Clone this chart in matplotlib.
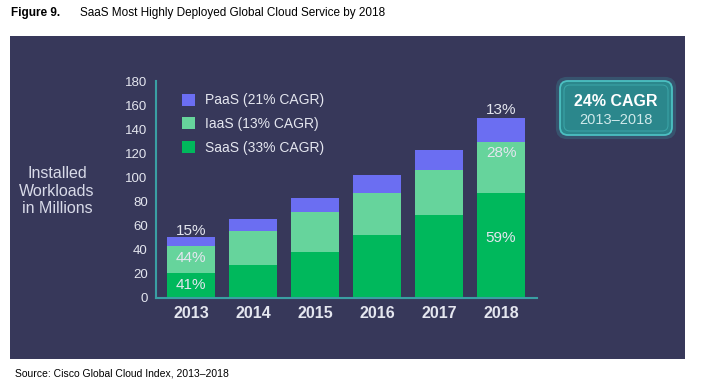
import matplotlib
matplotlib.use("Agg")
import matplotlib.pyplot as plt
import numpy as np
from matplotlib.patches import Rectangle, FancyBboxPatch, Patch

plt.rcParams['font.family'] = ['Liberation Sans', 'DejaVu Sans']

# dados (milhoes de workloads)
anos = ['2013', '2014', '2015', '2016', '2017', '2018']
saas = [21, 27, 38, 52, 68.5, 87]
iaas = [22, 28.5, 33, 35.5, 37.5, 42]
paas = [8, 10, 12, 14.5, 17, 20]

legenda = ['PaaS (21% CAGR)', 'IaaS (13% CAGR)', 'SaaS (33% CAGR)']
pct_2013 = ['41%', '44%', '15%']  # saas, iaas, paas
pct_2018 = ['59%', '28%', '13%']

cor_saas = '#00b85c'
cor_iaas = '#66d49c'
cor_paas = '#6b6ef2'
cor_fundo = '#37385a'
cor_eixo = '#3a9fa3'
cor_texto = '#e4e6ef'

W, H = 701, 384
fig = plt.figure(figsize=(W / 100, H / 100), dpi=100)
fig.patch.set_facecolor('white')

# eixo de fundo em coordenadas de pixel
bg = fig.add_axes([0, 0, 1, 1])
bg.set_xlim(0, W)
bg.set_ylim(H, 0)
bg.axis('off')

# painel escuro
bg.add_patch(Rectangle((10, 36), 675, 323, facecolor=cor_fundo, edgecolor='none'))

# titulo e fonte
bg.text(11, 13, 'Figure 9.', fontsize=8.5, fontweight='bold', va='center', ha='left')
bg.text(80, 13, 'SaaS Most Highly Deployed Global Cloud Service by 2018', fontsize=8.5,
        va='center', ha='left')
bg.text(15, 374, 'Source: Cisco Global Cloud Index, 2013\u20132018', fontsize=7.5,
        va='center', ha='left')

# rotulo do eixo y
bg.text(57, 191, 'Installed\nWorkloads\nin Millions', fontsize=11.5, color='#d8dae8',
        ha='center', va='center', linespacing=1.2)

# caixa CAGR
bg.add_patch(FancyBboxPatch((558, 79), 116, 58, boxstyle='round,pad=0,rounding_size=9',
                            facecolor='none', edgecolor='#3aa6aa', linewidth=3, alpha=0.25))
bg.add_patch(FancyBboxPatch((560, 81), 112, 54, boxstyle='round,pad=0,rounding_size=8',
                            facecolor='#2b878c', edgecolor='#4cc0c2', linewidth=1.3))
bg.add_patch(FancyBboxPatch((564, 85), 104, 46, boxstyle='round,pad=0,rounding_size=6',
                            facecolor='none', edgecolor='#3aa3a6', linewidth=0.8))
bg.text(616, 101, '24% CAGR', fontsize=11.5, fontweight='bold', color='white',
        ha='center', va='center')
bg.text(616, 120, '2013\u20132018', fontsize=10.5, color='#cfe9ea', ha='center', va='center')

# grafico de barras
ax = fig.add_axes([156 / W, 1 - 298 / H, (537 - 156) / W, (298 - 81) / H])
ax.patch.set_alpha(0)
x = np.arange(len(anos))
larg = 0.77
base2 = np.array(saas) + np.array(iaas)
total = base2 + np.array(paas)

ax.bar(x, saas, larg, color=cor_saas, label=legenda[2])
ax.bar(x, iaas, larg, bottom=saas, color=cor_iaas, label=legenda[1])
ax.bar(x, paas, larg, bottom=base2, color=cor_paas, label=legenda[0])

ax.set_xlim(-0.565, 5.58)
ax.set_ylim(0, 180)
ax.set_yticks(np.arange(0, 181, 20))
ax.set_xticks(x)
ax.set_xticklabels(anos, fontsize=11.5, fontweight='bold', color=cor_texto)
for lbl in ax.get_yticklabels():
    lbl.set_fontsize(9.5)
    lbl.set_color(cor_texto)
ax.tick_params(axis='both', length=0)
ax.tick_params(axis='y', pad=6)
ax.tick_params(axis='x', pad=6)
for s in ['top', 'right']:
    ax.spines[s].set_visible(False)
for s in ['left', 'bottom']:
    ax.spines[s].set_color(cor_eixo)
    ax.spines[s].set_linewidth(1.5)

# porcentagens 2013
ax.text(0, saas[0] / 2, pct_2013[0], ha='center', va='center', fontsize=11, color=cor_texto)
ax.text(0, saas[0] + iaas[0] / 2 + 1, pct_2013[1], ha='center', va='center', fontsize=11, color=cor_texto)
ax.text(0, total[0] + 4.5, pct_2013[2], ha='center', va='center', fontsize=11, color=cor_texto)
# porcentagens 2018
ax.text(5, saas[5] / 2 + 6, pct_2018[0], ha='center', va='center', fontsize=11, color=cor_texto)
ax.text(5, base2[5] - 9, pct_2018[1], ha='center', va='center', fontsize=11, color=cor_texto)
ax.text(5, total[5] + 7, pct_2018[2], ha='center', va='center', fontsize=11, color=cor_texto)

# legenda
handles = [Patch(facecolor=cor_paas), Patch(facecolor=cor_iaas), Patch(facecolor=cor_saas)]
leg = ax.legend(handles, legenda, loc='upper left', bbox_to_anchor=(0.05, 0.975),
                frameon=False, fontsize=10, labelcolor=cor_texto, borderpad=0,
                handlelength=0.95, handleheight=0.95, handletextpad=0.7, labelspacing=0.7)

fig.savefig('out.png', dpi=100)
